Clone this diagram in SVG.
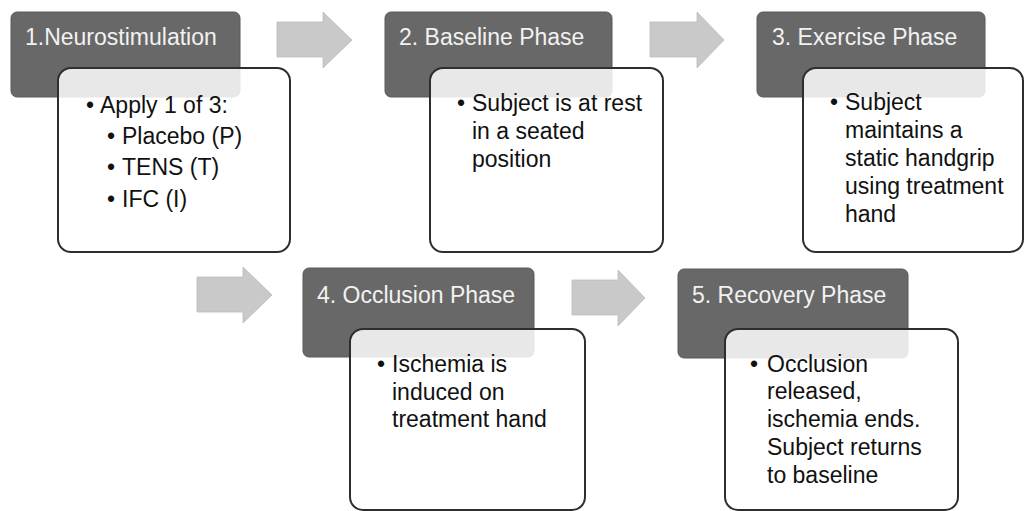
<svg xmlns="http://www.w3.org/2000/svg" width="1025" height="511" viewBox="0 0 1025 511">
<style>
.bg{fill:#ffffff}
.hdr{fill:#686868;stroke:#5a5a5a;stroke-width:1}
.card{fill:#ffffff;fill-opacity:0.85;stroke:#2e2e2e;stroke-width:2}
.arrow{fill:#c9c9c9;stroke:#bdbdbd;stroke-width:0.8}
.title{font-family:"Liberation Sans",Arial,sans-serif;font-size:23px;fill:#f2f2f2}
.body{font-family:"Liberation Sans",Arial,sans-serif;font-size:23px;fill:#111111}
</style>
<rect class="bg" x="0" y="0" width="1025" height="511"/>
<g id="connectors">
<polygon class="arrow" points="277,22 323,22 323,12 352,40 323,68 323,57 277,57"/>
<polygon class="arrow" points="650,22 697,22 697,12 724,40 697,68 697,57 650,57"/>
<polygon class="arrow" points="197,277 243,277 243,267 272,295 243,323 243,312 197,312"/>
<polygon class="arrow" points="572,280 618,280 618,270 645,298 618,326 618,315 572,315"/>
</g>
<g id="node1">
<rect class="hdr" x="11" y="12" width="229" height="85" rx="6"/>
<text class="title" x="25" y="45">1.Neurostimulation</text>
<rect class="card" x="58" y="68" width="232" height="184" rx="13"/>
<text class="body" x="86" y="113">•</text>
<text class="body" x="100" y="113">Apply 1 of 3:</text>
<text class="body" x="107" y="144">•</text>
<text class="body" x="122" y="144">Placebo (P)</text>
<text class="body" x="107" y="175">•</text>
<text class="body" x="122" y="175">TENS (T)</text>
<text class="body" x="107" y="207">•</text>
<text class="body" x="122" y="207">IFC (I)</text>
</g>
<g id="node2">
<rect class="hdr" x="385" y="12" width="227" height="85" rx="6"/>
<text class="title" x="399" y="45">2. Baseline Phase</text>
<rect class="card" x="430" y="68" width="233" height="184" rx="13"/>
<text class="body" x="457" y="111">•</text>
<text class="body"><tspan x="472" y="111">Subject is at rest</tspan><tspan x="472" y="139">in a seated</tspan><tspan x="472" y="167">position</tspan></text>
</g>
<g id="node3">
<rect class="hdr" x="757" y="12" width="228" height="85" rx="6"/>
<text class="title" x="772" y="45">3. Exercise Phase</text>
<rect class="card" x="803" y="68" width="220" height="184" rx="13"/>
<text class="body" x="830" y="110">•</text>
<text class="body"><tspan x="845" y="110">Subject</tspan><tspan x="845" y="138">maintains a</tspan><tspan x="845" y="166">static handgrip</tspan><tspan x="845" y="194">using treatment</tspan><tspan x="845" y="222">hand</tspan></text>
</g>
<g id="node4">
<rect class="hdr" x="303" y="268" width="231" height="89" rx="6"/>
<text class="title" x="317" y="303">4. Occlusion Phase</text>
<rect class="card" x="350" y="329" width="235" height="181" rx="13"/>
<text class="body" x="377" y="372">•</text>
<text class="body"><tspan x="392" y="372">Ischemia is</tspan><tspan x="392" y="400">induced on</tspan><tspan x="392" y="427">treatment hand</tspan></text>
</g>
<g id="node5">
<rect class="hdr" x="678" y="269" width="230" height="89" rx="6"/>
<text class="title" x="692" y="303">5. Recovery Phase</text>
<rect class="card" x="725" y="329" width="233" height="181" rx="13"/>
<text class="body" x="750" y="372">•</text>
<text class="body"><tspan x="767" y="372">Occlusion</tspan><tspan x="767" y="399">released,</tspan><tspan x="767" y="427">ischemia ends.</tspan><tspan x="767" y="455">Subject returns</tspan><tspan x="767" y="483">to baseline</tspan></text>
</g>
</svg>
